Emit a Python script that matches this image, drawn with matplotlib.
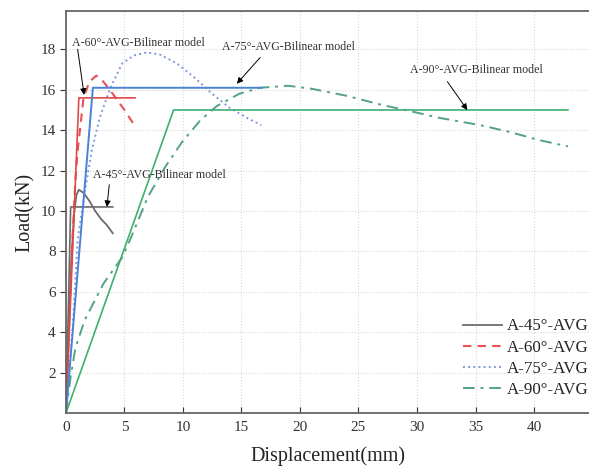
import numpy as np
import matplotlib
matplotlib.use("Agg")
import matplotlib.pyplot as plt

plt.rcParams['font.family'] = ['Liberation Serif', 'DejaVu Serif']

# test curves (displacement mm, load kN)
x45 = [0, 0.15, 0.3, 0.5, 0.7, 0.9, 1.1, 1.5, 2.0, 2.5, 3.0, 3.5, 4.0]
y45 = [0, 2.5, 5.0, 8.0, 9.9, 10.8, 11.05, 10.9, 10.5, 10.0, 9.6, 9.3, 8.9]
x60 = [0, 0.3, 0.5, 0.8, 1.0, 1.5, 2.0, 2.6, 3.2, 4.0, 5.0, 5.9]
y60 = [0, 5.0, 8.0, 11.5, 13.0, 15.6, 16.4, 16.7, 16.4, 15.8, 15.0, 14.2]
x75 = [0, 0.3, 0.6, 1.0, 1.6, 2.2, 2.9, 3.8, 4.8, 5.8, 6.9, 8.0, 9.5, 11.0, 12.5, 14.0, 15.5, 16.7]
y75 = [0, 2.2, 4.5, 8.6, 10.9, 13.0, 14.65, 16.1, 17.3, 17.7, 17.85, 17.75, 17.3, 16.6, 15.8, 15.1, 14.6, 14.25]
x90 = [0, 0.4, 0.8, 1.6, 3.2, 4.8, 5.5, 7.0, 8.5, 9.9, 11.5, 12.9, 14.8, 16.6, 19.0,
       21.0, 24.0, 27.0, 29.0, 32.0, 35.4, 38.0, 40.5, 42.9]
y90 = [0, 1.8, 3.2, 4.6, 6.4, 7.7, 8.6, 10.7, 12.2, 13.4, 14.5, 15.2, 15.8, 16.1, 16.2,
       16.05, 15.7, 15.25, 15.0, 14.6, 14.25, 13.9, 13.5, 13.2]

# bilinear models
bx45 = [0, 0.4, 4.0]
by45 = [0, 10.2, 10.2]
bx60 = [0, 1.1, 5.9]
by60 = [0, 15.6, 15.6]
bx75 = [0, 2.3, 16.7]
by75 = [0, 16.1, 16.1]
bx90 = [0, 9.2, 42.9]
by90 = [0, 15.0, 15.0]

fig = plt.figure(figsize=(5.89, 4.68), dpi=100)
ax = fig.add_axes([0.112, 0.1175, 0.888, 0.859])

ax.plot(x45, y45, '-', color="#6b6b6b", lw=1.3, label="A-45°-AVG")
ax.plot(x60, y60, '--', color="#e8505a", lw=1.5, dashes=(4, 3), label="A-60°-AVG")
ax.plot(x75, y75, ':', color="#7f98dc", lw=1.4, label="A-75°-AVG")
ax.plot(x90, y90, '-.', color="#55a08a", lw=1.4, dashes=(6, 3, 1.5, 3), label="A-90°-AVG")

ax.plot(bx45, by45, '-', color="#6b6b6b", lw=1.2)
ax.plot(bx60, by60, '-', color="#e04848", lw=1.2)
ax.plot(bx75, by75, '-', color="#4a82d8", lw=1.4)
ax.plot(bx90, by90, '-', color="#3db06e", lw=1.2)

# labels of the bilinear models, with arrows
arr = dict(arrowstyle="-|>", color="black", lw=0.7, mutation_scale=9, shrinkA=0, shrinkB=0)
tc = "#333333"
ax.text(0.5, 18.3, "A-60°-AVG-Bilinear model", fontsize=8.6, color=tc, va="center")
ax.annotate("", xy=(1.55, 15.75), xytext=(1.0, 18.0), arrowprops=arr)
ax.text(13.3, 18.1, "A-75°-AVG-Bilinear model", fontsize=8.6, color=tc, va="center")
ax.annotate("", xy=(14.6, 16.3), xytext=(16.6, 17.6), arrowprops=arr)
ax.text(29.4, 17.0, "A-90°-AVG-Bilinear model", fontsize=8.6, color=tc, va="center")
ax.annotate("", xy=(34.3, 15.0), xytext=(32.6, 16.4), arrowprops=arr)
ax.text(2.3, 11.8, "A-45°-AVG-Bilinear model", fontsize=8.6, color=tc, va="center")
ax.annotate("", xy=(3.5, 10.2), xytext=(3.7, 11.3), arrowprops=arr)

ax.set_xlim(0, 44.7)
ax.set_ylim(0, 19.9)
ax.set_xticks(np.arange(0, 41, 5))
ax.set_yticks(np.arange(2, 19, 2))
ax.tick_params(axis="x", direction="in", length=4, pad=5.5, labelsize=11, colors="#333333")
ax.tick_params(axis="y", direction="out", length=4, labelsize=11, colors="#333333")
ax.grid(True, color="#d8d8d8", linestyle=":", linewidth=0.8)
for s in ["left", "bottom", "top"]:
    ax.spines[s].set_color("#666666")
    ax.spines[s].set_linewidth(1.3)
ax.spines["right"].set_visible(False)

ax.set_xlabel("Displacement(mm)", fontsize=14.5, color="#222222", labelpad=9)
ax.set_ylabel("Load(kN)", fontsize=14.5, color="#222222")

ax.legend(loc="upper left", bbox_to_anchor=(0.786, 0.3195), bbox_transform=fig.transFigure,
          frameon=False, fontsize=12.2, borderpad=0, borderaxespad=0,
          handlelength=2.3, handletextpad=0.3, labelspacing=0.3, labelcolor="#222222")

plt.savefig("out.png", dpi=100)
